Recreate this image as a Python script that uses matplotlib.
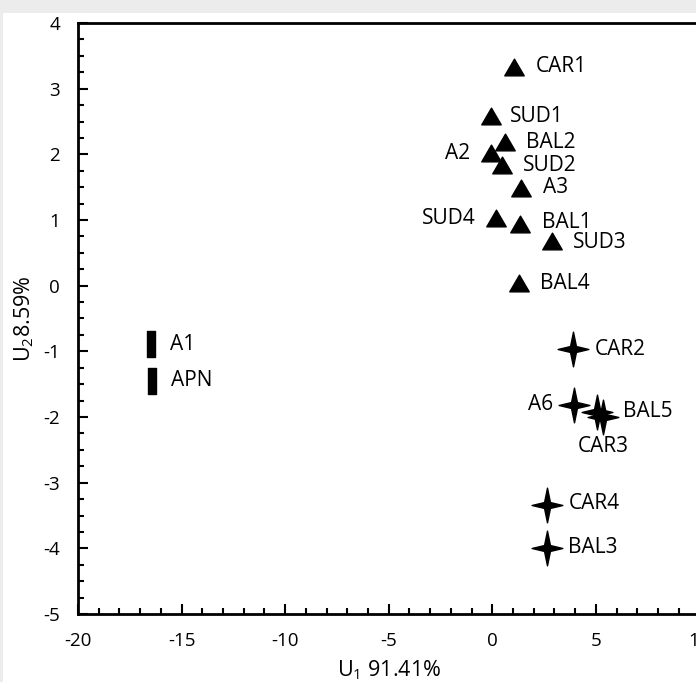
import matplotlib
matplotlib.use('Agg')
import matplotlib.pyplot as plt
from matplotlib.path import Path
from matplotlib.patches import Rectangle
from matplotlib.ticker import MultipleLocator

# =============================================================================
# DATA
# =============================================================================
tri_names = ["CAR1", "SUD1", "BAL2", "A2", "SUD2", "A3", "SUD4", "BAL1", "SUD3", "BAL4"]
tri_x = [1.06, -0.05, 0.63, -0.05, 0.48, 1.40, 0.19, 1.35, 2.90, 1.30]
tri_y = [3.33, 2.58, 2.19, 2.02, 1.84, 1.49, 1.03, 0.94, 0.68, 0.04]

star_names = ["CAR2", "A6", "BAL5", "CAR3", "CAR4", "BAL3"]
star_x = [3.90, 3.96, 5.07, 5.36, 2.65, 2.65]
star_y = [-0.96, -1.81, -1.92, -2.00, -3.34, -3.99]

bar_names = ["A1", "APN"]
bar_x = [-16.47, -16.45]
bar_y = [-0.89, -1.45]

# label offsets in pixels (dx, dy, ha)
label_pos = {
    "CAR1": (21, 0, "left"), "SUD1": (19, 0, "left"), "BAL2": (21, -1, "left"),
    "A2": (-21, 0, "right"), "SUD2": (21, -1, "left"), "A3": (22, 0, "left"),
    "SUD4": (-21, 0, "right"), "BAL1": (22, 1, "left"), "SUD3": (21, -1, "left"),
    "BAL4": (21, 0, "left"), "CAR2": (22, -1, "left"), "A6": (-21, 0, "right"),
    "BAL5": (26, 0, "left"), "CAR3": (0, -30, "center"), "CAR4": (22, 1, "left"),
    "BAL3": (21, 0, "left"), "A1": (19, 0, "left"), "APN": (19, 0, "left"),
}

# =============================================================================
# MARKERS
# =============================================================================
tri_marker = Path([(-0.5, -0.43), (0.5, -0.43), (0.0, 0.43), (-0.5, -0.43)],
                  [Path.MOVETO, Path.LINETO, Path.LINETO, Path.CLOSEPOLY])
a, w, h = 0.085, 0.443, 0.5
star_marker = Path([(0, h), (a, a), (w, 0), (a, -a), (0, -h), (-a, -a), (-w, 0), (-a, a), (0, h)],
                   [Path.MOVETO] + [Path.LINETO] * 7 + [Path.CLOSEPOLY])
bw = 0.135
bar_marker = Path([(-bw, -0.5), (bw, -0.5), (bw, 0.5), (-bw, 0.5), (-bw, -0.5)],
                  [Path.MOVETO, Path.LINETO, Path.LINETO, Path.LINETO, Path.CLOSEPOLY])

plt.rcParams['font.family'] = ['Open Sans', 'DejaVu Sans']
plt.rcParams['mathtext.fontset'] = 'custom'
plt.rcParams['mathtext.rm'] = 'Open Sans'
plt.rcParams['axes.unicode_minus'] = False

fig = plt.figure(figsize=(6.96, 6.82), dpi=100, facecolor='#ececec')
fig.patches.append(Rectangle((3 / 696, 0), 1, (682 - 13) / 682, transform=fig.transFigure,
                             facecolor='white', edgecolor='none', zorder=-10))

ax = fig.add_axes([78 / 696, 68 / 682, 621.5 / 696, 591 / 682])
ax.set_zorder(1)
ax.set_facecolor('white')

ax.plot(tri_x, tri_y, linestyle='none', marker=tri_marker, markersize=14, color='black')
ax.plot(star_x, star_y, linestyle='none', marker=star_marker, markersize=25, color='black')
ax.plot(bar_x, bar_y, linestyle='none', marker=bar_marker, markersize=18.7, color='black')

for names, xs, ys in [(tri_names, tri_x, tri_y), (star_names, star_x, star_y), (bar_names, bar_x, bar_y)]:
    for n, x, y in zip(names, xs, ys):
        dx, dy, ha = label_pos[n]
        ax.annotate(n, (x, y), xytext=(dx, dy), textcoords='offset pixels',
                    ha=ha, va='center', fontsize=15)

ax.set_xlim(-20, 10)
ax.set_ylim(-5, 4)
ax.xaxis.set_major_locator(MultipleLocator(5))
ax.xaxis.set_minor_locator(MultipleLocator(1))
ax.yaxis.set_major_locator(MultipleLocator(1))
ax.yaxis.set_minor_locator(MultipleLocator(0.25))
ax.tick_params(which='both', direction='in', top=False, right=False, width=1.5, labelsize=13.5, pad=13)
ax.tick_params(which='major', length=7)
ax.tick_params(which='minor', length=4.5)

for s in ax.spines.values():
    s.set_linewidth(2)

ax.set_xlabel(r'U$_{\mathregular{1}}$ 91.41%', fontsize=15.5, labelpad=6)
ax.set_ylabel(r'U$_{\mathregular{2}}$8.59%', fontsize=15.5, labelpad=5)

plt.savefig('out.png', dpi=100, facecolor=fig.get_facecolor())
